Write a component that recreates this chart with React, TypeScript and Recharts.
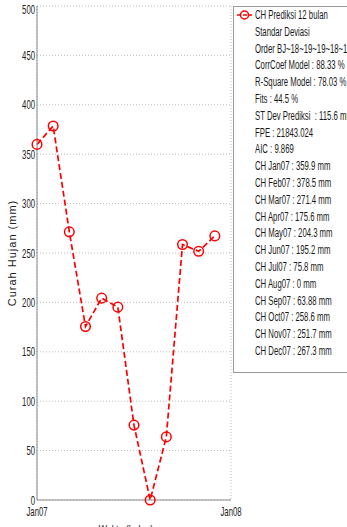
import React from 'react';
import { LineChart, Line, XAxis, YAxis, CartesianGrid, Legend } from 'recharts';

// predicted monthly rainfall (mm)
const months = ['Jan07', 'Feb07', 'Mar07', 'Apr07', 'May07', 'Jun07', 'Jul07', 'Aug07', 'Sep07', 'Oct07', 'Nov07', 'Dec07'];
const rainfall = [359.9, 378.5, 271.4, 175.6, 204.3, 195.2, 75.8, 0, 63.88, 258.6, 251.7, 267.3];

const seriesName = 'CH Prediksi 12 bulan';
const statLines = [
  'Standar Deviasi',
  'Order BJ~18~19~19~18~18',
  'CorrCoef Model : 88.33 %',
  'R-Square Model : 78.03 %',
  'Fits : 44.5 %',
  'ST Dev Prediksi  : 115.6 mm',
  'FPE : 21843.024',
  'AIC : 9.869',
];

const xTicks = [0, 12];
const xTickLabels = ['Jan07', 'Jan08'];
const yTicks = [0, 50, 100, 150, 200, 250, 300, 350, 400, 450, 500];

const data = months.map((m, i) => ({ idx: i, month: m, ch: rainfall[i] }));

const FONT = '"Liberation Sans", Arial, sans-serif';
const RED = '#ff0000';
const SQUEEZE = 0.62; // narrow glyphs like the old plotting font

const LegendText = ({ children }: { children: React.ReactNode }) => (
  <span style={{ display: 'inline-block', transform: 'scaleX(0.62)', transformOrigin: 'left center', whiteSpace: 'pre' }}>
    {children}
  </span>
);

const LegendBox = () => {
  const lines = [...statLines, ...months.map((m, i) => `CH ${m} : ${rainfall[i]} mm`)];
  return (
    <div
      style={{
        width: 130,
        height: 367,
        border: '1px solid #9a9a9a',
        background: '#fff',
        fontFamily: FONT,
        fontSize: 12.5,
        color: '#1a1a1a',
        lineHeight: '16.8px',
        boxSizing: 'border-box',
        overflow: 'hidden',
      }}
    >
      <div style={{ display: 'flex', alignItems: 'center', height: 16.8 }}>
        <svg width={20} height={14} style={{ marginLeft: 1, flex: 'none' }}>
          <line x1={2} y1={7} x2={17} y2={7} stroke={RED} strokeWidth={1.5} strokeDasharray="4 2" />
          <circle cx={9.5} cy={7} r={4} fill="none" stroke={RED} strokeWidth={1.5} />
        </svg>
        <LegendText>{seriesName}</LegendText>
      </div>
      {lines.map((t) => (
        <div key={t} style={{ paddingLeft: 21, height: 16.8 }}>
          <LegendText>{t}</LegendText>
        </div>
      ))}
    </div>
  );
};

const YTick = ({ x, y, payload }: any) => (
  <g transform={`translate(${x},${y})`}>
    <text transform={`scale(${SQUEEZE},1)`} textAnchor="end" dy={4.5} fontSize={12.5} fontFamily={FONT} fill="#222">
      {payload.value}
    </text>
  </g>
);

const XTick = ({ x, y, payload }: any) => (
  <g transform={`translate(${x},${y})`}>
    <text transform={`scale(${SQUEEZE},1)`} textAnchor="middle" dy={14} fontSize={12.5} fontFamily={FONT} fill="#222">
      {xTickLabels[xTicks.indexOf(payload.value)]}
    </text>
  </g>
);

export default function App() {
  return (
    <div style={{ position: 'fixed', left: 0, top: 0, width: 347, height: 527, overflow: 'hidden', background: '#fff' }}>
      <LineChart width={347} height={527} data={data} margin={{ top: 6, right: 116, bottom: 0, left: 0 }}>
        <CartesianGrid stroke="#bdbdbd" strokeDasharray="1 2" verticalValues={xTicks} />
        <XAxis
          dataKey="idx"
          type="number"
          domain={[0, 12]}
          ticks={xTicks}
          height={27}
          stroke="#8a8a8a"
          tickSize={0}
          tickMargin={2}
          tick={<XTick />}
          label={(p: any) => {
            const vb = p.viewBox;
            return (
              <g transform={`translate(${vb.x + vb.width / 2 - 8},${vb.y + 33})`}>
                <text transform="scale(0.8,1)" textAnchor="middle" fontSize={11} fontFamily={FONT} fill="#222">
                  Waktu (bulan)
                </text>
              </g>
            );
          }}
        />
        <YAxis
          domain={[0, 500]}
          ticks={yTicks}
          width={37}
          stroke="#8a8a8a"
          tickSize={0}
          tickMargin={2}
          tick={<YTick />}
          label={(p: any) => {
            const vb = p.viewBox;
            const cy = vb.y + vb.height / 2;
            return (
              <text
                x={12}
                y={cy}
                transform={`rotate(-90, 12, ${cy})`}
                textAnchor="middle"
                dominantBaseline="central"
                fontSize={11}
                letterSpacing={1}
                fontFamily={FONT}
                fill="#222"
              >
                Curah Hujan (mm)
              </text>
            );
          }}
        />
        <Legend
          layout="vertical"
          align="center"
          verticalAlign="middle"
          wrapperStyle={{ left: 233, top: 6, width: 130 }}
          content={() => <LegendBox />}
        />
        <Line
          dataKey="ch"
          name={seriesName}
          stroke={RED}
          strokeWidth={1.7}
          strokeDasharray="6 3"
          dot={{ r: 4.8, fill: 'none', stroke: RED, strokeWidth: 1.5, strokeDasharray: '' }}
          isAnimationActive={false}
        />
      </LineChart>
    </div>
  );
}
